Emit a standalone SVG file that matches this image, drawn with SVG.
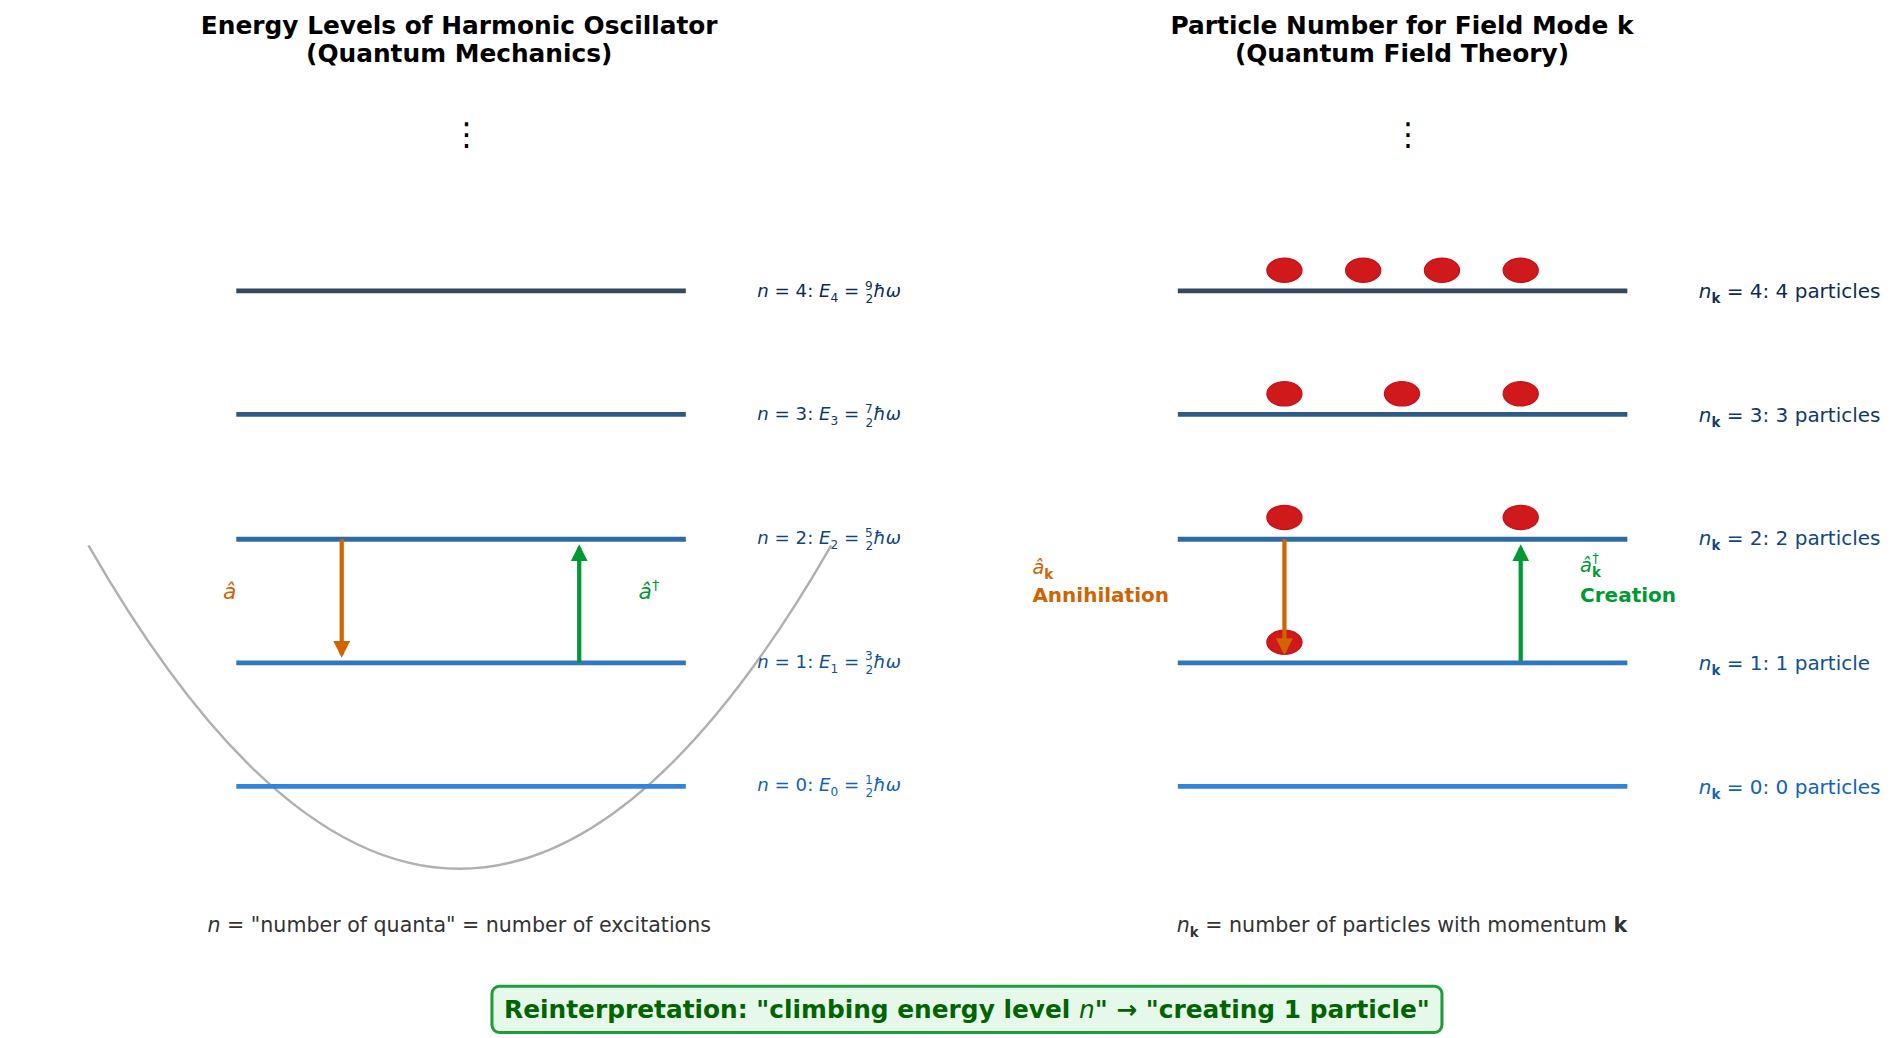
<svg xmlns="http://www.w3.org/2000/svg" width="1900" height="1038" viewBox="0 0 1900 1038">
<style>
text{font-family:"DejaVu Sans","Noto Sans",sans-serif}
.t{font-size:20.5px;font-weight:bold;text-anchor:middle;fill:#000}
.lab{font-size:15px}
.fr{font-size:10px}
.p{fill:#d0191b;stroke:#c81018;stroke-width:1}
.cap{font-size:17px;fill:#333;text-anchor:middle}
</style>
<defs>
<marker id="ao" viewBox="0 0 10 10" refX="8" refY="5" markerWidth="4" markerHeight="4" orient="auto"><path d="M0,0L10,5L0,10z" fill="#d06400"/></marker>
<marker id="ag" viewBox="0 0 10 10" refX="8" refY="5" markerWidth="4" markerHeight="4" orient="auto"><path d="M0,0L10,5L0,10z" fill="#009933"/></marker>
</defs>
<rect width="1900" height="1038" fill="#fff"/>
<g transform="scale(1.21173)">
<g id="titles">
<text class="t" x="379" y="28">Energy Levels of Harmonic Oscillator</text>
<text class="t" x="379" y="51">(Quantum Mechanics)</text>
<text class="t" x="1157" y="28">Particle Number for Field Mode k</text>
<text class="t" x="1157" y="51">(Quantum Field Theory)</text>
<text x="385" y="120" font-size="26" text-anchor="middle">⋮</text>
<text x="1162" y="120" font-size="26" text-anchor="middle">⋮</text>
</g>
<path id="potential" d="M73,450 Q379,984 686,450" fill="none" stroke="#b0b0b0" stroke-width="2"/>
<g id="levels-left" stroke-width="4">
<line x1="195" y1="240" x2="566" y2="240" stroke="#34495e"/>
<line x1="195" y1="342" x2="566" y2="342" stroke="#2f5a85"/>
<line x1="195" y1="445" x2="566" y2="445" stroke="#2e6aa5"/>
<line x1="195" y1="547" x2="566" y2="547" stroke="#2f77c0"/>
<line x1="195" y1="649" x2="566" y2="649" stroke="#2f85db"/>
</g>
<g id="labels-left" class="lab">
<text x="625" y="245" fill="#0d2c54"><tspan font-style="italic">n</tspan> = 4: <tspan font-style="italic">E</tspan><tspan class="fr" dy="4">4</tspan><tspan dy="-4"> = </tspan><tspan class="fr" dy="-6">9</tspan><tspan class="fr" dx="-6" dy="11">2</tspan><tspan dy="-5" font-style="italic">ħω</tspan></text>
<text x="625" y="347" fill="#0f3a6a"><tspan font-style="italic">n</tspan> = 3: <tspan font-style="italic">E</tspan><tspan class="fr" dy="4">3</tspan><tspan dy="-4"> = </tspan><tspan class="fr" dy="-6">7</tspan><tspan class="fr" dx="-6" dy="11">2</tspan><tspan dy="-5" font-style="italic">ħω</tspan></text>
<text x="625" y="449" fill="#11467f"><tspan font-style="italic">n</tspan> = 2: <tspan font-style="italic">E</tspan><tspan class="fr" dy="4">2</tspan><tspan dy="-4"> = </tspan><tspan class="fr" dy="-6">5</tspan><tspan class="fr" dx="-6" dy="11">2</tspan><tspan dy="-5" font-style="italic">ħω</tspan></text>
<text x="625" y="551" fill="#0f5196"><tspan font-style="italic">n</tspan> = 1: <tspan font-style="italic">E</tspan><tspan class="fr" dy="4">1</tspan><tspan dy="-4"> = </tspan><tspan class="fr" dy="-6">3</tspan><tspan class="fr" dx="-6" dy="11">2</tspan><tspan dy="-5" font-style="italic">ħω</tspan></text>
<text x="625" y="653" fill="#0f62c0"><tspan font-style="italic">n</tspan> = 0: <tspan font-style="italic">E</tspan><tspan class="fr" dy="4">0</tspan><tspan dy="-4"> = </tspan><tspan class="fr" dy="-6">1</tspan><tspan class="fr" dx="-6" dy="11">2</tspan><tspan dy="-5" font-style="italic">ħω</tspan></text>
</g>
<g id="connectors" stroke-width="3.5" fill="none">
<line x1="282" y1="445" x2="282" y2="540" stroke="#d06400" marker-end="url(#ao)"/>
<line x1="478" y1="547" x2="478" y2="452" stroke="#009933" marker-end="url(#ag)"/>
<line x1="1255" y1="547" x2="1255" y2="452" stroke="#009933" marker-end="url(#ag)"/>
</g>
<g id="op-labels" font-size="18">
<text x="184" y="494" fill="#d06400" font-style="italic">â</text>
<text x="527" y="494" fill="#009933" font-style="italic">â<tspan font-size="12" dy="-7" font-style="normal">†</tspan></text>
<text x="852" y="474" fill="#d06400" font-size="16" font-style="italic">â<tspan font-size="11" dy="4" font-weight="bold" font-style="normal">k</tspan></text>
<text x="852" y="497" fill="#d06400" font-size="16.5" font-weight="bold">Annihilation</text>
<text x="1304" y="472" fill="#009933" font-size="16" font-style="italic">â<tspan font-size="11" dy="4" font-weight="bold" font-style="normal">k</tspan><tspan font-size="11" dx="-7" dy="-11" font-style="normal">†</tspan></text>
<text x="1304" y="497" fill="#009933" font-size="16.5" font-weight="bold">Creation</text>
</g>
<g id="levels-right" stroke-width="4">
<line x1="972" y1="240" x2="1343" y2="240" stroke="#34495e"/>
<line x1="972" y1="342" x2="1343" y2="342" stroke="#2f5a85"/>
<line x1="972" y1="445" x2="1343" y2="445" stroke="#2e6aa5"/>
<line x1="972" y1="547" x2="1343" y2="547" stroke="#2f77c0"/>
<line x1="972" y1="649" x2="1343" y2="649" stroke="#2f85db"/>
</g>
<g id="particles">
<ellipse class="p" cx="1060" cy="223" rx="14.5" ry="10"/><ellipse class="p" cx="1125" cy="223" rx="14.5" ry="10"/><ellipse class="p" cx="1190" cy="223" rx="14.5" ry="10"/><ellipse class="p" cx="1255" cy="223" rx="14.5" ry="10"/>
<ellipse class="p" cx="1060" cy="325" rx="14.5" ry="10"/><ellipse class="p" cx="1157" cy="325" rx="14.5" ry="10"/><ellipse class="p" cx="1255" cy="325" rx="14.5" ry="10"/>
<ellipse class="p" cx="1060" cy="427" rx="14.5" ry="10"/><ellipse class="p" cx="1255" cy="427" rx="14.5" ry="10"/>
<ellipse class="p" cx="1060" cy="530" rx="14.5" ry="10"/>
</g>
<g id="connectors-front">
<line x1="1060" y1="445" x2="1060" y2="538" stroke="#d06400" stroke-width="3.5" marker-end="url(#ao)"/>
</g>
<g id="labels-right" font-size="16.5">
<text x="1402" y="246" fill="#0d2c54"><tspan font-style="italic">n</tspan><tspan font-size="11" font-weight="bold" dy="4">k</tspan><tspan dy="-4"> = 4: 4 particles</tspan></text>
<text x="1402" y="348" fill="#0f3a6a"><tspan font-style="italic">n</tspan><tspan font-size="11" font-weight="bold" dy="4">k</tspan><tspan dy="-4"> = 3: 3 particles</tspan></text>
<text x="1402" y="450" fill="#11467f"><tspan font-style="italic">n</tspan><tspan font-size="11" font-weight="bold" dy="4">k</tspan><tspan dy="-4"> = 2: 2 particles</tspan></text>
<text x="1402" y="553" fill="#0f5196"><tspan font-style="italic">n</tspan><tspan font-size="11" font-weight="bold" dy="4">k</tspan><tspan dy="-4"> = 1: 1 particle</tspan></text>
<text x="1402" y="655" fill="#0f62c0"><tspan font-style="italic">n</tspan><tspan font-size="11" font-weight="bold" dy="4">k</tspan><tspan dy="-4"> = 0: 0 particles</tspan></text>
</g>
<g id="captions">
<text class="cap" x="379" y="769"><tspan font-style="italic">n</tspan> = "number of quanta" = number of excitations</text>
<text class="cap" x="1157" y="769"><tspan font-style="italic">n</tspan><tspan font-size="11" font-weight="bold" dy="4">k</tspan><tspan dy="-4"> = number of particles with momentum </tspan><tspan font-weight="bold">k</tspan></text>
</g>
<g id="summary">
<rect x="406" y="814" width="784" height="38" rx="6" fill="#e6f8ea" stroke="#1e9e3a" stroke-width="2.5"/>
<text x="798" y="840" font-size="20.5" font-weight="bold" fill="#006400" text-anchor="middle">Reinterpretation: "climbing energy level <tspan font-style="italic" font-weight="normal">n</tspan>" → "creating 1 particle"</text>
</g>
</g>
</svg>
